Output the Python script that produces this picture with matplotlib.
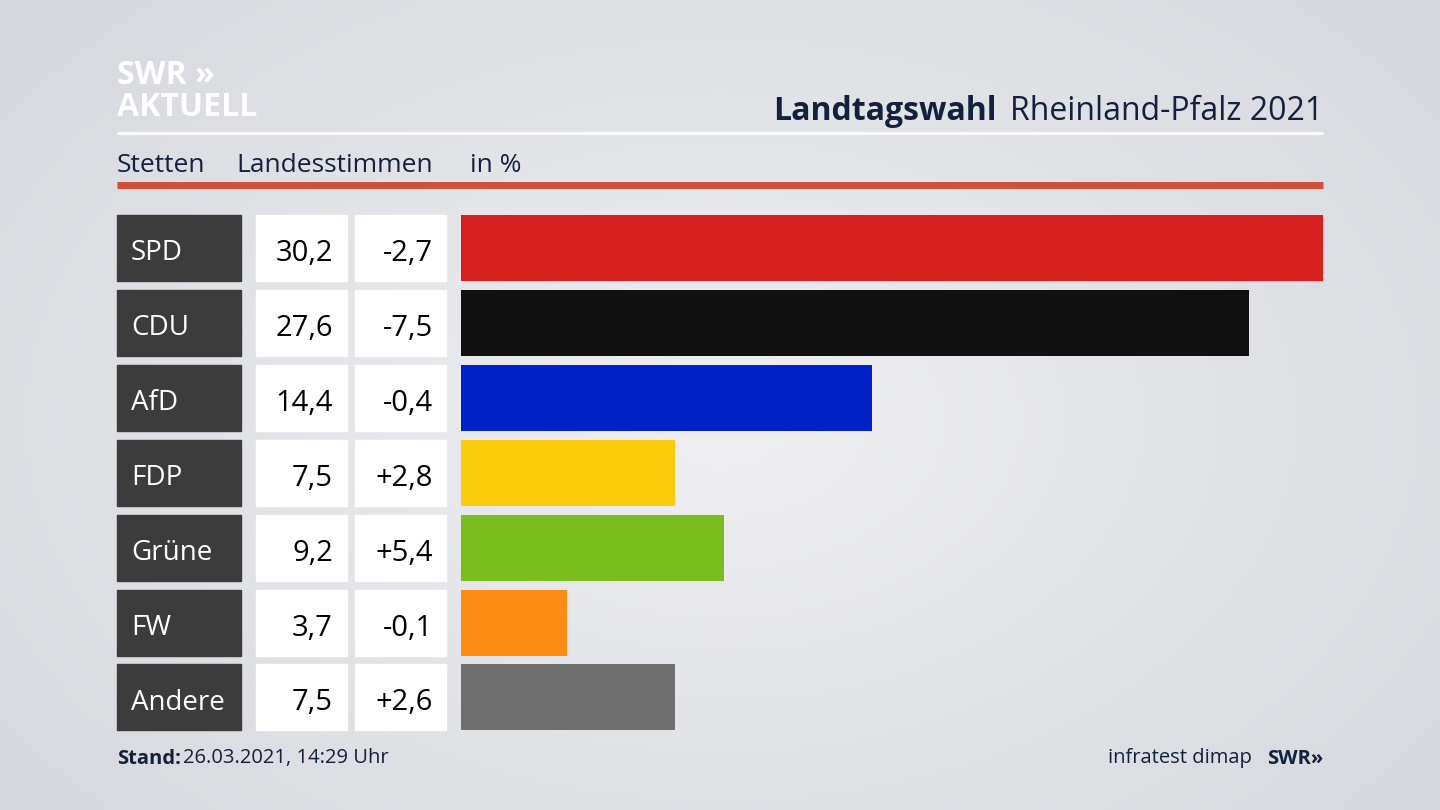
import numpy as np
import matplotlib
matplotlib.use("Agg")
import matplotlib.pyplot as plt
from matplotlib.patches import Rectangle

parties = ["SPD", "CDU", "AfD", "FDP", "Grüne", "FW", "Andere"]
values = [30.2, 27.6, 14.4, 7.5, 9.2, 3.7, 7.5]
changes = ["-2,7", "-7,5", "-0,4", "+2,8", "+5,4", "-0,1", "+2,6"]
colors = ["#d61f1f", "#111111", "#0021c8", "#fccc0a", "#7bbd1c", "#fc8c14", "#6f6f6f"]

FONT = "Open Sans"
NAVY = "#13213d"
W, H = 1440, 810
fig = plt.figure(figsize=(14.4, 8.1), dpi=100)

bg = fig.add_axes([0, 0, 1, 1])
yy, xx = np.mgrid[0:H:4, 0:W:4]
r = np.sqrt(((xx - 720) / 900) ** 2 + ((yy - 420) / 600) ** 2)
g = np.clip(1 - r, 0, 1)
base = np.array([0.84, 0.85, 0.87])
top = np.array([0.94, 0.94, 0.95])
img = base + (top - base) * g[..., None]
bg.imshow(img, extent=[0, W, H, 0], aspect="auto")
bg.set_xlim(0, W); bg.set_ylim(H, 0); bg.axis("off")

def T(x, y, s, **kw):
    kw.setdefault("family", FONT)
    kw.setdefault("color", NAVY)
    kw.setdefault("va", "center_baseline")
    bg.text(x, y, s, **kw)

T(117, 72, "SWR »", fontsize=23, weight="bold", color="white")
T(117, 104, "AKTUELL", fontsize=23, weight="bold", color="white")
T(1323, 108, "Rheinland-Pfalz 2021", fontsize=23, ha="right")
T(997, 108, "Landtagswahl", fontsize=23, weight="bold", ha="right")
bg.plot([117, 1323], [133, 133], color="white", lw=2, solid_capstyle="butt")
T(117, 162, "Stetten", fontsize=19)
T(236, 162, "Landesstimmen", fontsize=19)
T(470, 162, "in %", fontsize=19)
bg.plot([117, 1323], [185, 185], color="#d0503a", lw=5, solid_capstyle="butt")

row_top = 215
pitch = 74.9
hgt = 66
for i, (p, v, c) in enumerate(zip(parties, values, changes)):
    y0 = row_top + i * pitch
    yc = y0 + hgt / 2 + 2
    bg.add_patch(Rectangle((117, y0), 124, hgt, color="#3c3c3c"))
    bg.add_patch(Rectangle((256, y0), 91, hgt, color="white"))
    bg.add_patch(Rectangle((355, y0), 91, hgt, color="white"))
    T(131, yc, p, fontsize=20, color="white")
    T(333, yc, f"{v:.1f}".replace(".", ","), fontsize=21, color="black", ha="right")
    T(433, yc, c, fontsize=21, color="black", ha="right")

T(117, 756, "Stand:", fontsize=14.5, weight="bold")
T(183, 756, "26.03.2021, 14:29 Uhr", fontsize=14.5)
T(1252, 756, "infratest dimap", fontsize=14.5, ha="right")
T(1323, 756, "SWR»", fontsize=14.5, weight="bold", ha="right")

n = len(parties)
bottom_px = row_top + (n - 1) * pitch + hgt
ax = fig.add_axes([461 / W, 1 - bottom_px / H, (1323 - 461) / W, (bottom_px - row_top) / H])
ax.patch.set_alpha(0)
ypos = np.arange(n)
ax.barh(ypos, values, color=colors, height=hgt / pitch)
ax.set_xlim(0, max(values))
half = (hgt / pitch) / 2
ax.set_ylim(n - 1 + half, -half)
ax.axis("off")

fig.savefig("out.png", dpi=100)
